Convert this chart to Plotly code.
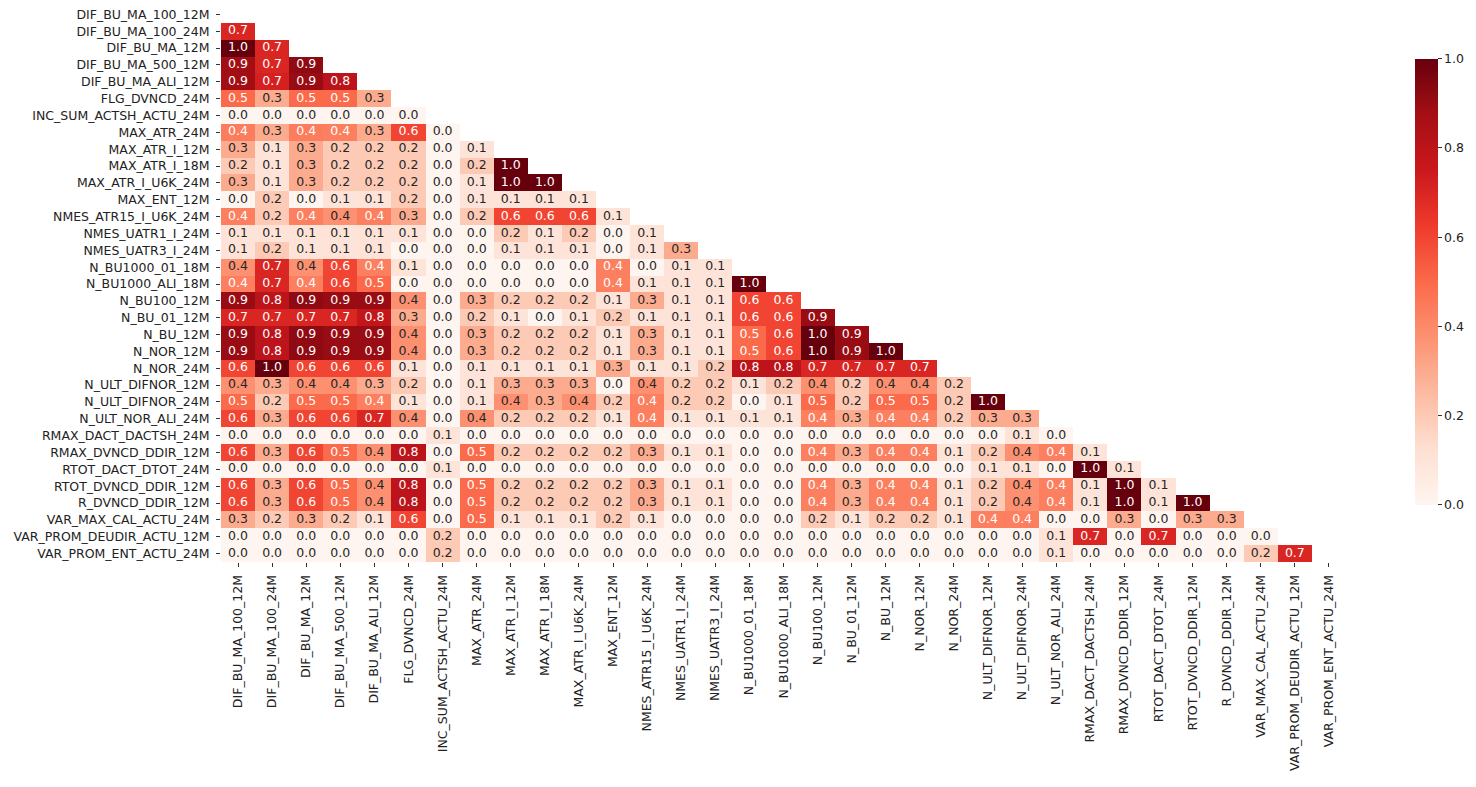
import plotly.graph_objects as go

variables = [
    "DIF_BU_MA_100_12M", "DIF_BU_MA_100_24M", "DIF_BU_MA_12M", "DIF_BU_MA_500_12M",
    "DIF_BU_MA_ALI_12M", "FLG_DVNCD_24M", "INC_SUM_ACTSH_ACTU_24M", "MAX_ATR_24M",
    "MAX_ATR_I_12M", "MAX_ATR_I_18M", "MAX_ATR_I_U6K_24M", "MAX_ENT_12M",
    "NMES_ATR15_I_U6K_24M", "NMES_UATR1_I_24M", "NMES_UATR3_I_24M", "N_BU1000_01_18M",
    "N_BU1000_ALI_18M", "N_BU100_12M", "N_BU_01_12M", "N_BU_12M", "N_NOR_12M",
    "N_NOR_24M", "N_ULT_DIFNOR_12M", "N_ULT_DIFNOR_24M", "N_ULT_NOR_ALI_24M",
    "RMAX_DACT_DACTSH_24M", "RMAX_DVNCD_DDIR_12M", "RTOT_DACT_DTOT_24M",
    "RTOT_DVNCD_DDIR_12M", "R_DVNCD_DDIR_12M", "VAR_MAX_CAL_ACTU_24M",
    "VAR_PROM_DEUDIR_ACTU_12M", "VAR_PROM_ENT_ACTU_24M",
]

# lower-triangle correlations (row i holds columns 0..i-1)
lower = [
    [],
    [0.7],
    [1.0, 0.7],
    [0.88, 0.7, 0.92],
    [0.88, 0.72, 0.9, 0.8],
    [0.5, 0.3, 0.5, 0.5, 0.3],
    [0.0, 0.0, 0.0, 0.0, 0.0, 0.0],
    [0.44, 0.3, 0.44, 0.43, 0.3, 0.6, 0.0],
    [0.3, 0.1, 0.3, 0.2, 0.2, 0.2, 0.0, 0.1],
    [0.2, 0.1, 0.3, 0.2, 0.2, 0.2, 0.0, 0.2, 1.0],
    [0.3, 0.1, 0.3, 0.2, 0.2, 0.2, 0.0, 0.1, 1.0, 1.0],
    [0.0, 0.2, 0.0, 0.1, 0.1, 0.2, 0.0, 0.1, 0.1, 0.1, 0.1],
    [0.43, 0.2, 0.43, 0.38, 0.43, 0.3, 0.0, 0.2, 0.6, 0.6, 0.6, 0.1],
    [0.1, 0.1, 0.1, 0.1, 0.1, 0.1, 0.0, 0.0, 0.2, 0.1, 0.2, 0.0, 0.1],
    [0.1, 0.2, 0.1, 0.1, 0.1, 0.0, 0.0, 0.0, 0.1, 0.1, 0.1, 0.0, 0.1, 0.3],
    [0.38, 0.7, 0.38, 0.6, 0.43, 0.1, 0.0, 0.0, 0.0, 0.0, 0.0, 0.43, 0.0, 0.1, 0.1],
    [0.43, 0.7, 0.43, 0.6, 0.5, 0.0, 0.0, 0.0, 0.0, 0.0, 0.0, 0.43, 0.1, 0.1, 0.1, 1.0],
    [0.9, 0.8, 0.92, 0.9, 0.9, 0.38, 0.0, 0.3, 0.2, 0.2, 0.2, 0.1, 0.3, 0.1, 0.1, 0.6, 0.6],
    [0.7, 0.7, 0.7, 0.7, 0.78, 0.3, 0.0, 0.2, 0.1, 0.0, 0.1, 0.2, 0.1, 0.1, 0.1, 0.6, 0.6, 0.9],
    [0.9, 0.8, 0.92, 0.9, 0.9, 0.38, 0.0, 0.3, 0.2, 0.2, 0.2, 0.1, 0.3, 0.1, 0.1, 0.5, 0.6,
     1.0, 0.9],
    [0.9, 0.8, 0.92, 0.9, 0.9, 0.38, 0.0, 0.3, 0.2, 0.2, 0.2, 0.1, 0.3, 0.1, 0.1, 0.5, 0.6,
     1.0, 0.9, 1.0],
    [0.6, 1.0, 0.6, 0.6, 0.6, 0.1, 0.0, 0.1, 0.1, 0.1, 0.1, 0.3, 0.1, 0.1, 0.2, 0.8, 0.8,
     0.7, 0.7, 0.7, 0.7],
    [0.38, 0.3, 0.38, 0.38, 0.3, 0.2, 0.0, 0.1, 0.3, 0.3, 0.3, 0.0, 0.38, 0.2, 0.2, 0.1, 0.2,
     0.38, 0.2, 0.38, 0.38, 0.2],
    [0.5, 0.2, 0.5, 0.5, 0.43, 0.1, 0.0, 0.1, 0.38, 0.3, 0.38, 0.2, 0.43, 0.2, 0.2, 0.0, 0.1,
     0.5, 0.2, 0.5, 0.5, 0.2, 1.0],
    [0.6, 0.3, 0.6, 0.6, 0.7, 0.38, 0.0, 0.38, 0.2, 0.2, 0.2, 0.1, 0.43, 0.1, 0.1, 0.1, 0.1,
     0.43, 0.3, 0.43, 0.43, 0.2, 0.3, 0.3],
    [0.0, 0.0, 0.0, 0.0, 0.0, 0.0, 0.1, 0.0, 0.0, 0.0, 0.0, 0.0, 0.0, 0.0, 0.0, 0.0, 0.0,
     0.0, 0.0, 0.0, 0.0, 0.0, 0.0, 0.1, 0.0],
    [0.6, 0.3, 0.6, 0.5, 0.38, 0.8, 0.0, 0.5, 0.2, 0.2, 0.2, 0.2, 0.3, 0.1, 0.1, 0.0, 0.0,
     0.43, 0.3, 0.43, 0.43, 0.1, 0.2, 0.38, 0.43, 0.1],
    [0.0, 0.0, 0.0, 0.0, 0.0, 0.0, 0.1, 0.0, 0.0, 0.0, 0.0, 0.0, 0.0, 0.0, 0.0, 0.0, 0.0,
     0.0, 0.0, 0.0, 0.0, 0.0, 0.1, 0.1, 0.0, 1.0, 0.1],
    [0.6, 0.3, 0.6, 0.5, 0.38, 0.8, 0.0, 0.5, 0.2, 0.2, 0.2, 0.2, 0.3, 0.1, 0.1, 0.0, 0.0,
     0.43, 0.3, 0.43, 0.43, 0.1, 0.2, 0.38, 0.43, 0.1, 1.0, 0.1],
    [0.6, 0.3, 0.6, 0.5, 0.38, 0.8, 0.0, 0.5, 0.2, 0.2, 0.2, 0.2, 0.3, 0.1, 0.1, 0.0, 0.0,
     0.43, 0.3, 0.43, 0.43, 0.1, 0.2, 0.38, 0.43, 0.1, 1.0, 0.1, 1.0],
    [0.3, 0.2, 0.3, 0.2, 0.1, 0.6, 0.0, 0.5, 0.1, 0.1, 0.1, 0.2, 0.1, 0.0, 0.0, 0.0, 0.0,
     0.2, 0.1, 0.2, 0.2, 0.1, 0.43, 0.43, 0.0, 0.0, 0.3, 0.0, 0.3, 0.3],
    [0.0, 0.0, 0.0, 0.0, 0.0, 0.0, 0.2, 0.0, 0.0, 0.0, 0.0, 0.0, 0.0, 0.0, 0.0, 0.0, 0.0,
     0.0, 0.0, 0.0, 0.0, 0.0, 0.0, 0.0, 0.1, 0.7, 0.0, 0.7, 0.0, 0.0, 0.0],
    [0.0, 0.0, 0.0, 0.0, 0.0, 0.0, 0.2, 0.0, 0.0, 0.0, 0.0, 0.0, 0.0, 0.0, 0.0, 0.0, 0.0,
     0.0, 0.0, 0.0, 0.0, 0.0, 0.0, 0.0, 0.1, 0.0, 0.0, 0.0, 0.0, 0.0, 0.2, 0.7],
]

colorbar_ticks = [0.0, 0.2, 0.4, 0.6, 0.8, 1.0]

reds = ['#fff5f0', '#fee0d2', '#fcbba1', '#fc9272', '#fb6a4a',
        '#ef3b2c', '#cb181d', '#a50f15', '#67000d']
colorscale = [[i / (len(reds) - 1), c] for i, c in enumerate(reds)]

n = len(variables)
z = []
for i in range(n):
    row = list(lower[i]) + [None] * (n - len(lower[i]))
    z.append(row)

tx, ty, tt, tc = [], [], [], []
for i in range(n):
    for j, v in enumerate(lower[i]):
        tx.append(variables[j])
        ty.append(variables[i])
        tt.append(f"{v:.1f}")
        tc.append("#ffffff" if v >= 0.42 else "#262626")

FONT = "DejaVu Sans"
FS = 12.5

fig = go.Figure()
fig.add_trace(go.Heatmap(
    z=z, x=variables, y=variables,
    zmin=0, zmax=1, colorscale=colorscale,
    hoverongaps=False,
    colorbar=dict(
        x=1.0613, xanchor="left", xpad=0,
        y=0.504, yanchor="middle", ypad=0,
        lenmode="pixels", len=446,
        thickness=23, thicknessmode="pixels",
        outlinewidth=0,
        tickvals=colorbar_ticks, ticktext=[f"{t:.1f}" for t in colorbar_ticks],
        ticks="outside", ticklen=4, tickcolor="#333",
        tickfont=dict(family=FONT, size=FS, color="#222"),
    ),
))
fig.add_trace(go.Scatter(
    x=tx, y=ty, text=tt, mode="text",
    textfont=dict(family=FONT, size=FS, color=tc),
    hoverinfo="skip", showlegend=False,
))

fig.update_layout(
    width=1476, height=787,
    margin=dict(l=221, r=130, t=6, b=225),
    paper_bgcolor="white", plot_bgcolor="white",
    font=dict(family=FONT, size=FS, color="#222"),
    showlegend=False,
)
fig.update_xaxes(
    type="category", categoryorder="array", categoryarray=variables,
    range=[-0.5, n - 0.5], tickangle=-90,
    ticks="outside", ticklen=4, tickcolor="#333", ticklabelstandoff=3,
    showgrid=False, zeroline=False, showline=False,
    tickfont=dict(family=FONT, size=FS, color="#222"),
)
fig.update_yaxes(
    type="category", categoryorder="array", categoryarray=variables,
    range=[n - 0.5, -0.5],
    ticks="outside", ticklen=4, tickcolor="#333", ticklabelstandoff=4,
    showgrid=False, zeroline=False, showline=False,
    tickfont=dict(family=FONT, size=FS, color="#222"),
)

fig.write_html(
    "out.html",
    config={"displayModeBar": False},
    post_script="document.body.style.margin='0';document.body.style.overflow='hidden';",
)
